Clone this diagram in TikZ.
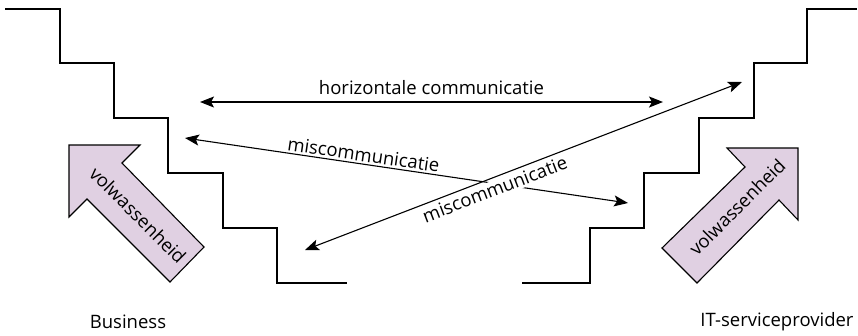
\documentclass[tikz,border=0pt]{standalone}
\usepackage{fontspec}
\setmainfont{Open Sans}
\usetikzlibrary{arrows.meta}
\definecolor{lila}{RGB}{224,208,226}
\tikzset{
  trap/.style={line width=1.2pt},
  pijl/.style={line width=1.1pt, {Stealth[length=14pt,width=11pt,inset=3pt]}-{Stealth[length=14pt,width=11pt,inset=3pt]}},
  groei/.style={line width=1.1pt, fill=lila, line join=miter},
  lbl/.style={font=\fontsize{18.5}{21}\selectfont, inner sep=2pt}
}
\begin{document}
\begin{tikzpicture}[x=1pt,y=-1pt]
\useasboundingbox (0,0) rectangle (858,335);
% trappen
\draw[trap] (5,9) -- (60,9) -- (60,63) -- (114,63) -- (114,118) -- (168,118) -- (168,173) -- (223,173) -- (223,228) -- (277,228) -- (277,283) -- (347,283);
\draw[trap] (522,283) -- (590,283) -- (590,228) -- (644,228) -- (644,173) -- (699,173) -- (699,118) -- (754,118) -- (754,63) -- (807,63) -- (807,9) -- (857,9);
% volwassenheid
\draw[groei] (69,145) -- (140,145) -- (122,163) -- (204,247) -- (170,282) -- (87,199) -- (69,217) -- cycle;
\node[lbl, rotate=-45] (vwl) at (138,215) {volwassenheid};
\draw[groei] (798,148) -- (727,148) -- (745,167) -- (662,248) -- (697,283) -- (779,200) -- (798,220) -- cycle;
\node[lbl, rotate=45] (vwr) at (737,207) {volwassenheid};
% communicatie
\coordinate (hl) at (200,102);
\coordinate (hr) at (663,102);
\coordinate (m1l) at (185,138);
\coordinate (m1r) at (628,203);
\coordinate (m2l) at (305,250);
\coordinate (m2r) at (742,82);
\draw[pijl] (hl) -- node[lbl, above=5pt] (hc) {horizontale communicatie} (hr);
\draw[pijl] (m1l) -- node[lbl, sloped, above, pos=0.4] (mc1) {miscommunicatie} (m1r);
\draw[pijl] (m2l) -- node[lbl, sloped, below=2pt, pos=0.425, fill=white] (mc2) {miscommunicatie} (m2r);
% partijen
\node[lbl] (bus) at (128,322) {Business};
\node[lbl] (itp) at (777,322) {IT-serviceprovider};
\end{tikzpicture}
\end{document}
